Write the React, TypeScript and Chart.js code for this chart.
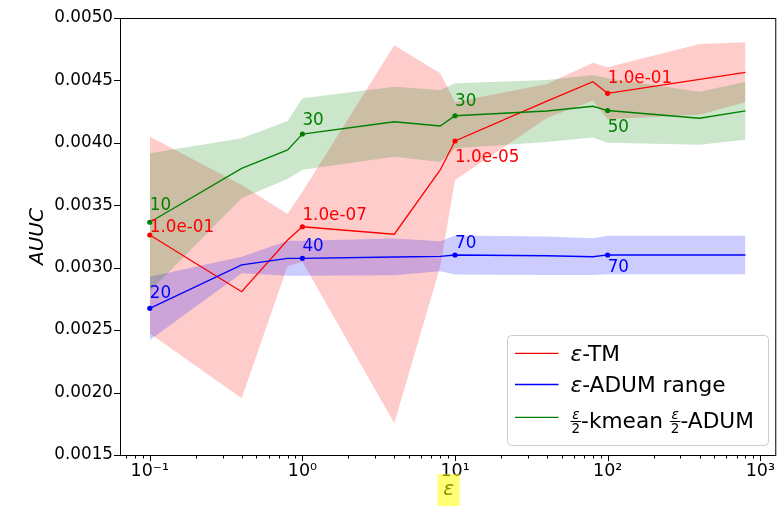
import React, { useEffect, useRef } from 'react';
import { Chart, registerables } from 'chart.js';

Chart.register(...registerables);

const FONT = "'DejaVu Sans', 'Liberation Sans', sans-serif";

// x values (epsilon)
const epsValues = [0.1, 0.4, 0.8, 1, 4, 8, 10, 40, 80, 100, 400, 800];

// ε-TM
const tmMean = [0.003262, 0.002808, 0.003222, 0.003328, 0.003268, 0.003783, 0.004015, 0.004335, 0.00449, 0.004397, 0.004509, 0.004565];
const tmStd = [0.000788, 0.000854, 0.000208, 0.00028, 0.001514, 0.000774, 0.000312, 0.000136, 0.000152, 0.000208, 0.000283, 0.00024];

// ε-ADUM range
const adumMean = [0.002675, 0.003022, 0.003075, 0.003075, 0.003086, 0.003091, 0.003102, 0.003096, 0.003088, 0.003102, 0.003102, 0.003102];
const adumStd = [0.000253, 0.000066, 0.00014, 0.00014, 0.000147, 0.00012, 0.000156, 0.000154, 0.000147, 0.000154, 0.000154, 0.000154];

// ε/2-kmean ε/2-ADUM
const kmeanMean = [0.003364, 0.003796, 0.003943, 0.004071, 0.004169, 0.004135, 0.004217, 0.004255, 0.004293, 0.004259, 0.004197, 0.004257];
const kmeanStd = [0.000553, 0.00024, 0.000232, 0.000286, 0.00028, 0.000288, 0.00026, 0.000248, 0.000251, 0.000258, 0.000213, 0.000232];

const yTickValues = [0.0015, 0.002, 0.0025, 0.003, 0.0035, 0.004, 0.0045, 0.005];
const yTickLabels = ['0.0015', '0.0020', '0.0025', '0.0030', '0.0035', '0.0040', '0.0045', '0.0050'];
const xTickValues = [0.1, 1, 10, 100, 1000];
const xTickLabels = ['10⁻¹', '10⁰', '10¹', '10²', '10³'];

// annotated points (x = 0.1, 1, 10, 100)
const markedIndex = [0, 3, 6, 9];
const tmNotes = ['1.0e-01', '1.0e-07', '1.0e-05', '1.0e-01'];
const adumNotes = ['20', '40', '70', '70'];
const kmeanNotes = ['10', '30', '30', '50'];

// annotation baseline offsets in px (layout)
const tmNoteDy = [-3, -7, 21, -10];
const adumNoteDy = [-10, -7, -7, 17];
const kmeanNoteDy = [-12, -9, -10, 21];

const RED = '#ff0000';
const BLUE = '#0000ff';
const GREEN = '#008000';
const RED_FILL = 'rgba(255,0,0,0.2)';
const BLUE_FILL = 'rgba(0,0,255,0.2)';
const GREEN_FILL = 'rgba(0,128,0,0.2)';

const pts = (arr: number[]) => epsValues.map((x, i) => ({ x, y: arr[i] }));
const lo = (m: number[], s: number[]) => m.map((v, i) => v - s[i]);
const hi = (m: number[], s: number[]) => m.map((v, i) => v + s[i]);

const bandLower = (m: number[], s: number[], order: number) => ({
  data: pts(lo(m, s)),
  borderWidth: 0,
  borderColor: 'rgba(0,0,0,0)',
  pointRadius: 0,
  fill: false,
  order,
});
const bandUpper = (m: number[], s: number[], color: string, order: number) => ({
  data: pts(hi(m, s)),
  borderWidth: 0,
  borderColor: 'rgba(0,0,0,0)',
  pointRadius: 0,
  fill: '-1',
  backgroundColor: color,
  order,
});
const meanLine = (m: number[], color: string, order: number) => ({
  data: pts(m),
  borderColor: color,
  backgroundColor: color,
  borderWidth: 1.3,
  pointRadius: (c: any) => (markedIndex.includes(c.dataIndex) ? 2.6 : 0),
  pointBorderWidth: 0,
  pointBackgroundColor: color,
  fill: false,
  tension: 0,
  order,
});

type Part = { kind: 'text'; s: string; italic?: boolean } | { kind: 'frac' };

const LEGEND_SIZE = 21.7;

const decorPlugin = {
  id: 'decor',
  afterDraw(chart: any) {
    const ctx = chart.ctx as CanvasRenderingContext2D;
    const { left, top, right, bottom } = chart.chartArea;
    const xs = chart.scales.x;
    const ys = chart.scales.y;
    ctx.save();

    // frame
    ctx.strokeStyle = '#000';
    ctx.lineWidth = 1;
    ctx.strokeRect(left + 0.5, top + 0.5, right - left, bottom - top);

    // y ticks
    ctx.beginPath();
    yTickValues.forEach((v) => {
      const py = Math.round(ys.getPixelForValue(v)) + 0.5;
      ctx.moveTo(left - 6, py);
      ctx.lineTo(left, py);
    });
    // x major ticks
    xTickValues.forEach((v) => {
      const px = Math.round(xs.getPixelForValue(v)) + 0.5;
      ctx.moveTo(px, bottom);
      ctx.lineTo(px, bottom + 6);
    });
    // x minor ticks
    for (let d = -2; d <= 3; d++) {
      for (let m = 2; m <= 9; m++) {
        const v = m * Math.pow(10, d);
        if (v < xs.min || v > xs.max) continue;
        const px = Math.round(xs.getPixelForValue(v)) + 0.5;
        ctx.moveTo(px, bottom);
        ctx.lineTo(px, bottom + 3.5);
      }
    }
    ctx.stroke();

    // point annotations
    const notes = [
      { mean: tmMean, texts: tmNotes, dy: tmNoteDy, color: RED },
      { mean: adumMean, texts: adumNotes, dy: adumNoteDy, color: BLUE },
      { mean: kmeanMean, texts: kmeanNotes, dy: kmeanNoteDy, color: GREEN },
    ];
    ctx.font = `16.8px ${FONT}`;
    ctx.textAlign = 'left';
    ctx.textBaseline = 'alphabetic';
    notes.forEach((n) => {
      markedIndex.forEach((idx, k) => {
        const px = xs.getPixelForValue(epsValues[idx]);
        const py = ys.getPixelForValue(n.mean[idx]);
        ctx.fillStyle = n.color;
        ctx.fillText(n.texts[k], px, py + n.dy[k]);
      });
    });

    // axis titles
    ctx.fillStyle = '#000';
    ctx.font = `italic 20px ${FONT}`;
    ctx.textAlign = 'center';
    ctx.textBaseline = 'middle';
    ctx.save();
    ctx.translate(37.5, (top + bottom) / 2);
    ctx.rotate(-Math.PI / 2);
    ctx.fillText('AUUC', 0, 0);
    ctx.restore();
    const cxTitle = (left + right) / 2;
    ctx.fillText('ε', cxTitle + 1, 490);
    // highlight over the x title
    ctx.fillStyle = 'rgba(255,255,0,0.55)';
    ctx.fillRect(cxTitle - 10, 474, 22, 32);

    // legend
    const lx = 507.5, ly = 335.5, lw = 261, lh = 110, r = 4;
    ctx.beginPath();
    ctx.moveTo(lx + r, ly);
    ctx.lineTo(lx + lw - r, ly);
    ctx.quadraticCurveTo(lx + lw, ly, lx + lw, ly + r);
    ctx.lineTo(lx + lw, ly + lh - r);
    ctx.quadraticCurveTo(lx + lw, ly + lh, lx + lw - r, ly + lh);
    ctx.lineTo(lx + r, ly + lh);
    ctx.quadraticCurveTo(lx, ly + lh, lx, ly + lh - r);
    ctx.lineTo(lx, ly + r);
    ctx.quadraticCurveTo(lx, ly, lx + r, ly);
    ctx.closePath();
    ctx.fillStyle = 'rgba(255,255,255,0.8)';
    ctx.fill();
    ctx.strokeStyle = '#cccccc';
    ctx.lineWidth = 1;
    ctx.stroke();

    const rows: { color: string; y: number; base: number; parts: Part[] }[] = [
      { color: RED, y: 353.3, base: 360.8, parts: [{ kind: 'text', s: 'ε', italic: true }, { kind: 'text', s: '-TM' }] },
      { color: BLUE, y: 384.5, base: 392, parts: [{ kind: 'text', s: 'ε', italic: true }, { kind: 'text', s: '-ADUM range' }] },
      {
        color: GREEN, y: 417.3, base: 427.5,
        parts: [{ kind: 'frac' }, { kind: 'text', s: '-kmean ' }, { kind: 'frac' }, { kind: 'text', s: '-ADUM' }],
      },
    ];
    ctx.textAlign = 'left';
    ctx.textBaseline = 'alphabetic';
    rows.forEach((row) => {
      ctx.strokeStyle = row.color;
      ctx.lineWidth = 1.3;
      ctx.beginPath();
      ctx.moveTo(515, row.y);
      ctx.lineTo(558.5, row.y);
      ctx.stroke();
      let cx = 570.5;
      ctx.fillStyle = '#000';
      row.parts.forEach((p) => {
        if (p.kind === 'text') {
          ctx.font = `${p.italic ? 'italic ' : ''}${LEGEND_SIZE}px ${FONT}`;
          ctx.fillText(p.s, cx, row.base);
          cx += ctx.measureText(p.s).width;
        } else {
          ctx.font = `italic 13.5px ${FONT}`;
          const wn = ctx.measureText('ε').width;
          ctx.font = `13.5px ${FONT}`;
          const wd = ctx.measureText('2').width;
          const w = Math.max(wn, wd) + 2;
          const barY = row.base - 6.5;
          ctx.font = `italic 13.5px ${FONT}`;
          ctx.fillText('ε', cx + (w - wn) / 2, barY - 2.2);
          ctx.font = `13.5px ${FONT}`;
          ctx.fillText('2', cx + (w - wd) / 2, barY + 11.8);
          ctx.strokeStyle = '#000';
          ctx.lineWidth = 1;
          ctx.beginPath();
          ctx.moveTo(cx, barY + 0.5);
          ctx.lineTo(cx + w, barY + 0.5);
          ctx.stroke();
          cx += w;
        }
      });
    });

    ctx.restore();
  },
};

export default function App() {
  const canvasRef = useRef<HTMLCanvasElement | null>(null);

  useEffect(() => {
    if (!canvasRef.current) return;
    const chart = new Chart(canvasRef.current, {
      type: 'line',
      data: {
        datasets: [
          bandLower(tmMean, tmStd, 6),
          bandUpper(tmMean, tmStd, RED_FILL, 6),
          bandLower(adumMean, adumStd, 5),
          bandUpper(adumMean, adumStd, BLUE_FILL, 5),
          bandLower(kmeanMean, kmeanStd, 4),
          bandUpper(kmeanMean, kmeanStd, GREEN_FILL, 4),
          meanLine(tmMean, RED, 3),
          meanLine(adumMean, BLUE, 2),
          meanLine(kmeanMean, GREEN, 1),
        ] as any,
      },
      options: {
        animation: false,
        responsive: false,
        devicePixelRatio: 1,
        events: [],
        layout: { padding: { top: 18, right: 3, left: 0, bottom: 0 } },
        plugins: {
          legend: { display: false },
          tooltip: { enabled: false },
        },
        scales: {
          x: {
            type: 'logarithmic',
            min: Math.pow(10, -1.19515),
            max: Math.pow(10, 3.09825),
            grid: { display: false, drawTicks: false },
            border: { display: false },
            afterFit: (s: any) => {
              s.height = 60;
            },
            afterBuildTicks: (s: any) => {
              s.ticks = xTickValues.map((v) => ({ value: v }));
            },
            ticks: {
              autoSkip: false,
              maxRotation: 0,
              minRotation: 0,
              padding: 6,
              color: '#000',
              font: { family: FONT, size: 17.5 },
              callback: (v: any) => xTickLabels[xTickValues.indexOf(Number(v))] ?? '',
            },
          },
          y: {
            type: 'linear',
            min: 0.0015,
            max: 0.005,
            grid: { display: false, drawTicks: false },
            border: { display: false },
            afterFit: (s: any) => {
              s.width = 120;
            },
            afterBuildTicks: (s: any) => {
              s.ticks = yTickValues.map((v) => ({ value: v }));
            },
            ticks: {
              padding: 7,
              color: '#000',
              font: { family: FONT, size: 16.8 },
              callback: (v: any) => {
                const i = yTickValues.findIndex((t) => Math.abs(t - Number(v)) < 1e-9);
                return i >= 0 ? yTickLabels[i] : '';
              },
            },
          },
        },
      } as any,
      plugins: [decorPlugin],
    });
    return () => chart.destroy();
  }, []);

  return (
    <div style={{ position: 'absolute', left: 0, top: 0, width: 781, height: 515, background: '#fff' }}>
      <canvas ref={canvasRef} width={781} height={515} style={{ display: 'block' }} />
    </div>
  );
}
